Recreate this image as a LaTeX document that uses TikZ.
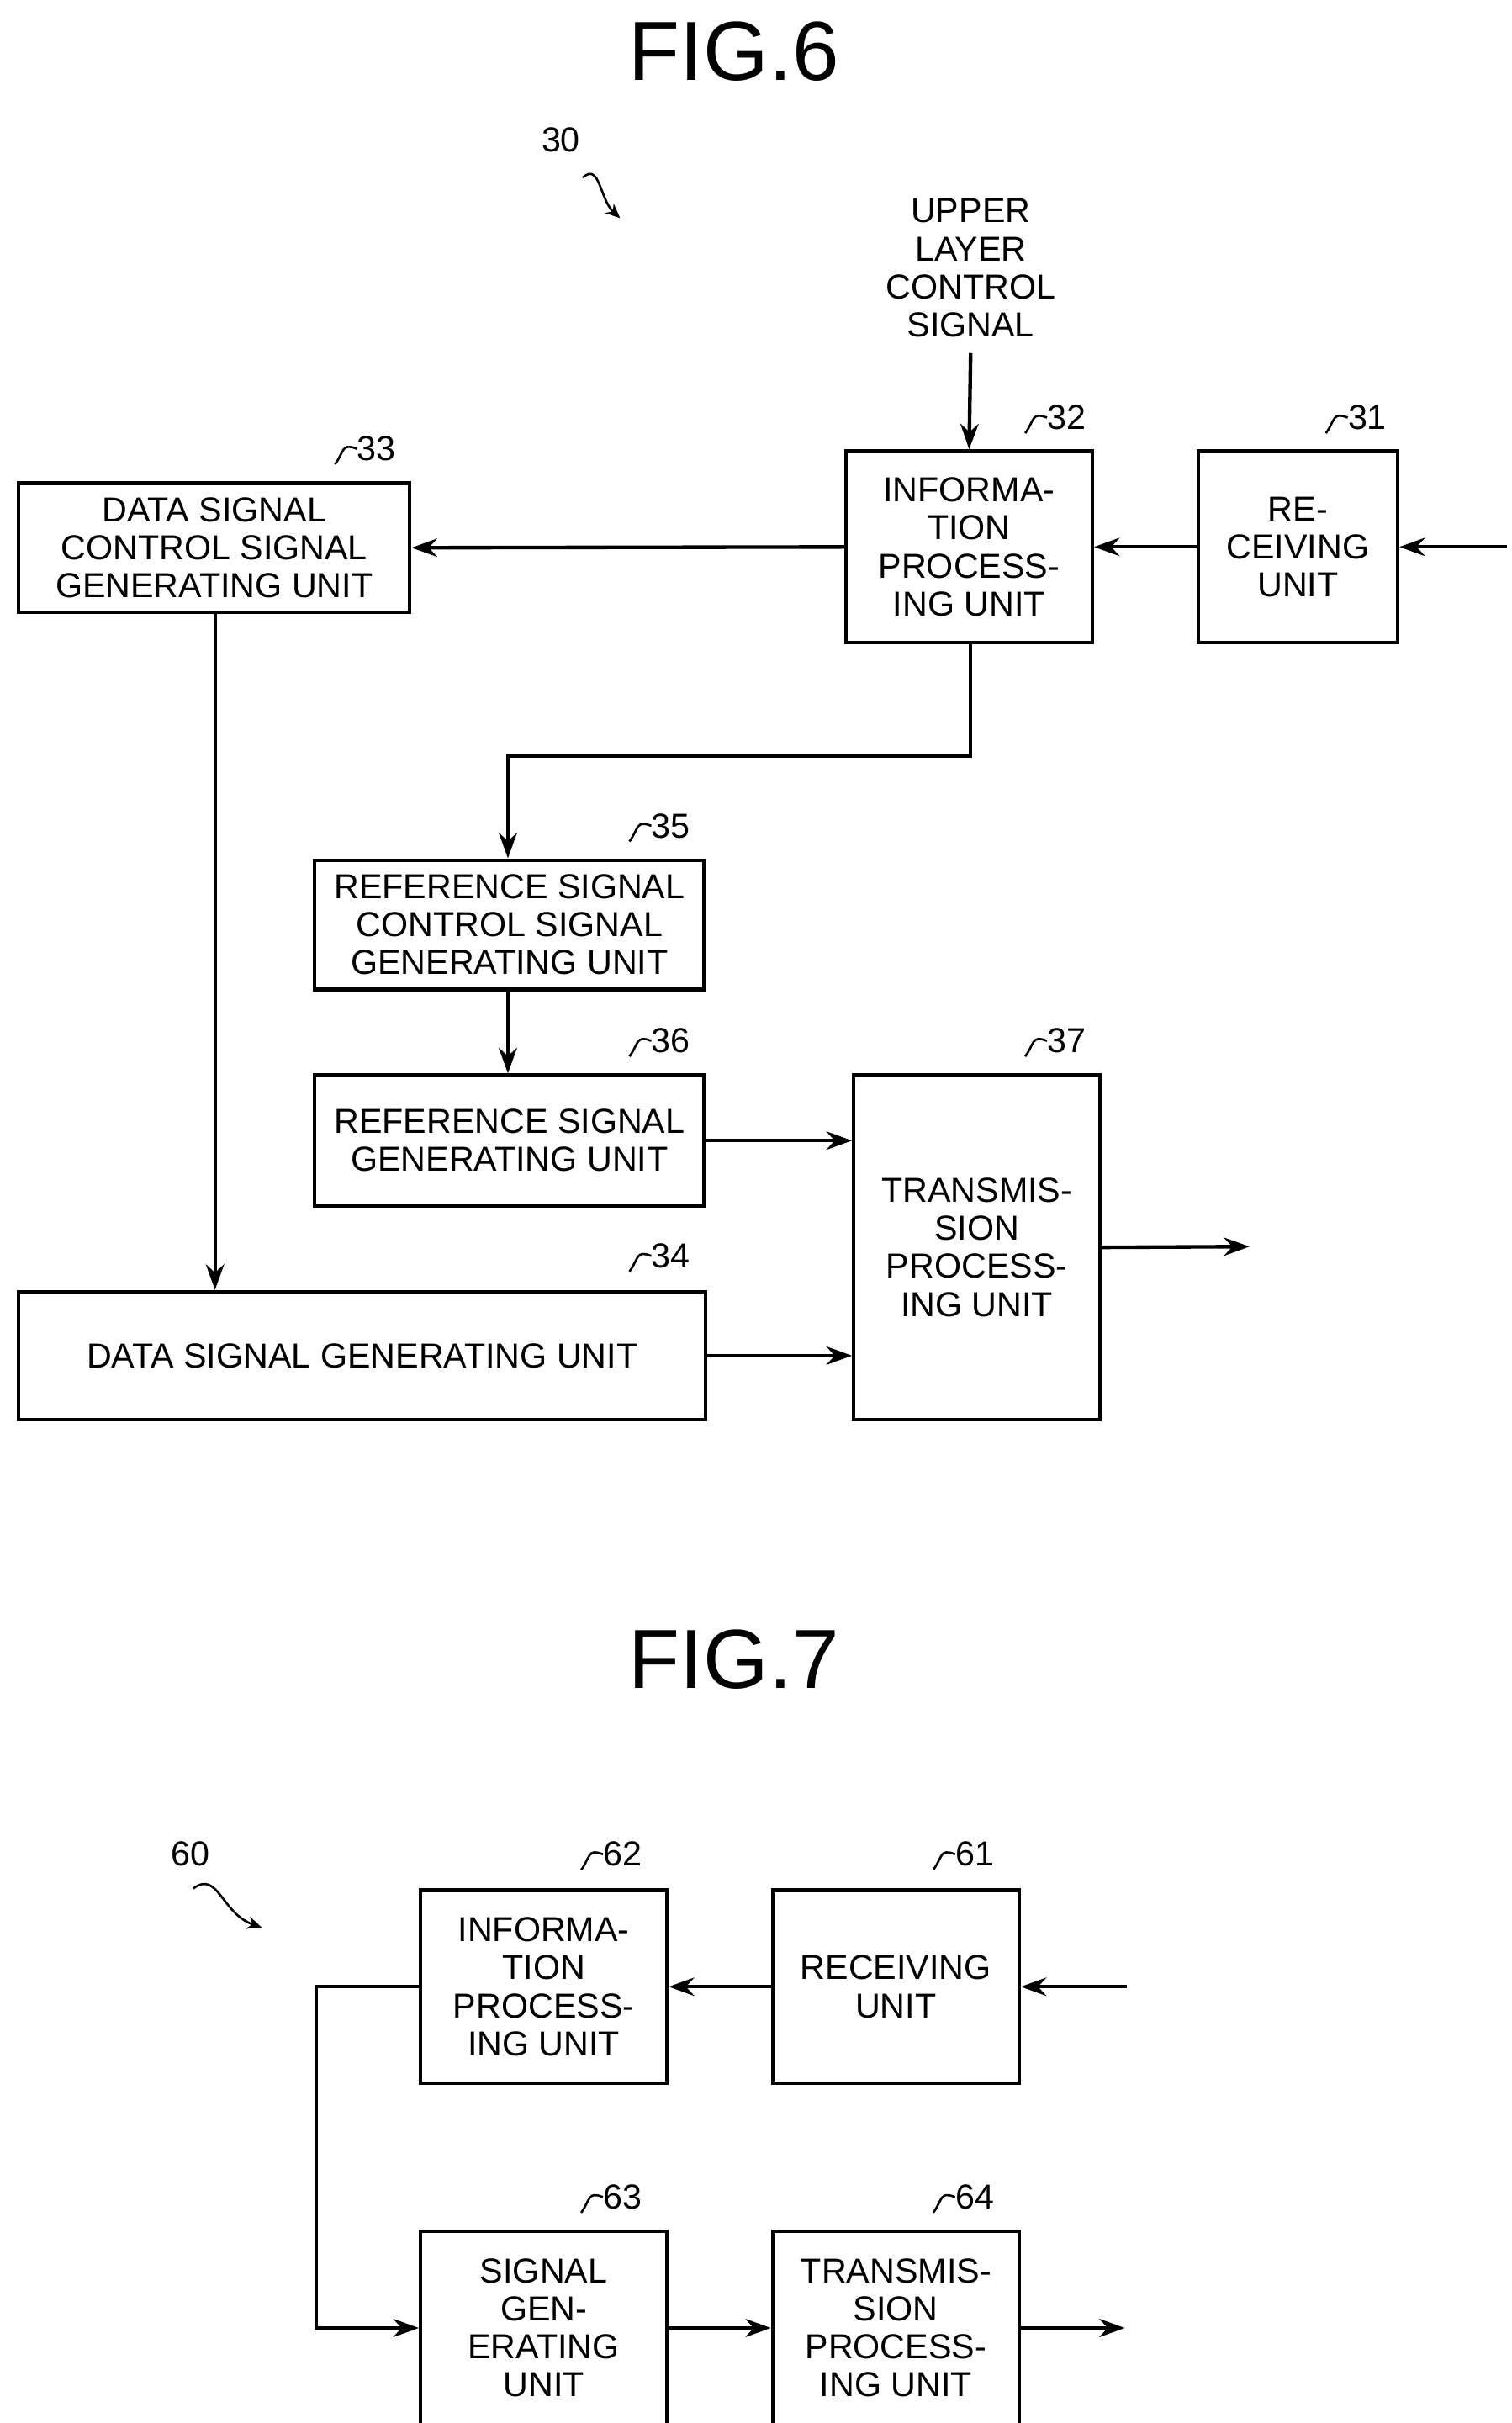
\documentclass[tikz,border=0pt]{standalone}
\usepackage{fontspec}
\setmainfont{Liberation Sans}
\usetikzlibrary{arrows.meta}
\tikzset{
  box/.style={draw, line width=2pt, align=center, inner sep=0pt,
    font=\fontsize{19}{20.8}\selectfont},
  arr/.style={line width=2pt, -{Stealth[length=14pt,width=10pt]}},
  lbl/.style={font=\fontsize{19}{20.8}\selectfont, inner sep=0pt},
  fig/.style={font=\fontsize{46}{50}\selectfont, inner sep=0pt},
  sq/.style={line width=1.2pt},
}
\newcommand{\refno}[3]{% name, position, text
  \node[lbl, anchor=west] (#1) at #2 {#3};
  \draw[sq] (#1.west) ++(0,0) .. controls +(-10,-4) and +(6,-8) .. +(-14,10);
}
\begin{document}
\begin{tikzpicture}[x=0.03cm, y=-0.03cm]
  \useasboundingbox (0,0) rectangle (970,1555);

  % FIG.6
  \node[fig] (f6) at (471,33) {FIG.6};
  \node[lbl] (n30) at (360,90) {30};
  \coordinate (n30e) at (398,140);
  \draw[sq, -{Stealth[length=8pt,width=7pt]}] (374,114) .. controls (385,104) and (385,128) .. (n30e);

  \node[lbl, align=center] (ul) at (623,172) {UPPER\\LAYER\\CONTROL\\SIGNAL};

  \node[box, minimum width=158*0.03cm, minimum height=123*0.03cm] (b32) at (622,351) {INFORMA-\\TION\\PROCESS-\\ING UNIT};
  \node[box, minimum width=128*0.03cm, minimum height=123*0.03cm] (b31) at (833,351) {RE-\\CEIVING\\UNIT};
  \node[box, minimum width=251*0.03cm, minimum height=83*0.03cm] (b33) at (137.5,351.5) {DATA SIGNAL\\CONTROL SIGNAL\\GENERATING UNIT};
  \node[box, minimum width=250*0.03cm, minimum height=83*0.03cm] (b35) at (327,593.5) {REFERENCE SIGNAL\\CONTROL SIGNAL\\GENERATING UNIT};
  \node[box, minimum width=250*0.03cm, minimum height=84*0.03cm] (b36) at (327,732) {REFERENCE SIGNAL\\GENERATING UNIT};
  \node[box, minimum width=158*0.03cm, minimum height=221*0.03cm] (b37) at (627,800.5) {TRANSMIS-\\SION\\PROCESS-\\ING UNIT};
  \node[box, minimum width=441*0.03cm, minimum height=82*0.03cm] (b34) at (232.5,870) {DATA SIGNAL GENERATING UNIT};

  \refno{r32}{(672,268)}{32}
  \refno{r31}{(865,268)}{31}
  \refno{r33}{(229,288)}{33}
  \refno{r35}{(418,530)}{35}
  \refno{r36}{(418,668)}{36}
  \refno{r37}{(672,668)}{37}
  \refno{r34}{(418,806)}{34}

  \coordinate (in31) at (967,351);
  \coordinate (out37) at (802,800);
  \coordinate (k1) at (623,485);
  \coordinate (k2) at (326,485);

  \draw[arr] (ul.south) ++(0,10) -- (b32.north);
  \draw[arr] (in31) -- (b31.east);
  \draw[arr] (b31.west) -- (b32.east);
  \draw[arr] (b32.west) -- (b33.east);
  \draw[arr] (b33.south -| 138,0) -- (b34.north -| 138,0);
  \draw[arr] (b32.south -| k1) -- (k1) -- (k2) -- (b35.north -| k2);
  \draw[arr] (b35.south -| k2) -- (b36.north -| k2);
  \draw[arr] (b36.east) -- (b37.west |- b36.east);
  \draw[arr] (b34.east) -- (b37.west |- b34.east);
  \draw[arr] (b37.east) -- (out37);

  % FIG.7
  \node[fig] (f7) at (471,1065) {FIG.7};
  \node[lbl] (n60) at (122,1190) {60};
  \coordinate (n60e) at (168,1237);
  \draw[sq, -{Stealth[length=8pt,width=7pt]}] (124,1212) .. controls (140,1200) and (142,1228) .. (n60e);

  \node[box, minimum width=158*0.03cm, minimum height=124*0.03cm] (b62) at (349,1275) {INFORMA-\\TION\\PROCESS-\\ING UNIT};
  \node[box, minimum width=158*0.03cm, minimum height=124*0.03cm] (b61) at (575,1275) {RECEIVING\\UNIT};
  \node[box, minimum width=158*0.03cm, minimum height=124*0.03cm] (b63) at (349,1494) {SIGNAL\\GEN-\\ERATING\\UNIT};
  \node[box, minimum width=158*0.03cm, minimum height=124*0.03cm] (b64) at (575,1494) {TRANSMIS-\\SION\\PROCESS-\\ING UNIT};

  \refno{r62}{(387,1190)}{62}
  \refno{r61}{(613,1190)}{61}
  \refno{r63}{(387,1410)}{63}
  \refno{r64}{(613,1410)}{64}

  \coordinate (in61) at (723,1275);
  \coordinate (out64) at (722,1494);
  \coordinate (k3) at (203,1275);
  \coordinate (k4) at (203,1494);

  \draw[arr] (in61) -- (b61.east);
  \draw[arr] (b61.west) -- (b62.east);
  \draw[arr] (b62.west) -- (k3) -- (k4) -- (b63.west);
  \draw[arr] (b63.east) -- (b64.west);
  \draw[arr] (b64.east) -- (out64);
\end{tikzpicture}
\end{document}
